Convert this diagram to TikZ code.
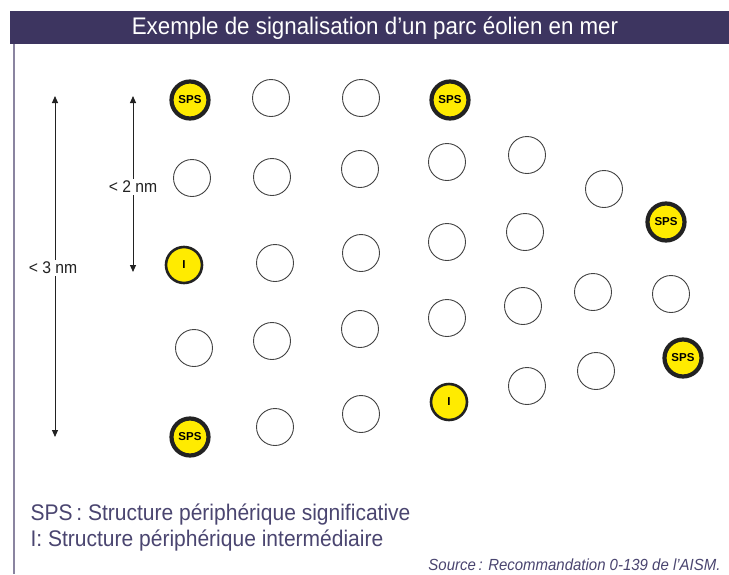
\documentclass[tikz,border=0pt]{standalone}
\usepackage{fontspec}
\usetikzlibrary{arrows.meta}
\setmainfont{Liberation Sans}
\newfontfamily\condfont[FakeStretch=0.93]{Liberation Sans}
\newfontfamily\boldfont{Liberation Sans Bold}
\definecolor{barpurple}{HTML}{3D3560}
\definecolor{framegray}{HTML}{8A84A0}
\definecolor{legendtxt}{HTML}{4A4570}
\definecolor{buoyyellow}{HTML}{FFEB00}
\definecolor{ringdark}{HTML}{222222}
\begin{document}
\begin{tikzpicture}[x=1pt,y=-1pt,
  turbine/.style={circle,draw=ringdark!85,line width=0.9pt,minimum size=37pt,inner sep=0pt},
  spsbuoy/.style={circle,draw=ringdark,fill=buoyyellow,line width=4.2pt,minimum size=37pt,inner sep=0pt,
    font=\boldfont\fontsize{11.5}{11.5}\selectfont},
  ibuoy/.style={circle,draw=ringdark,fill=buoyyellow,line width=2.6pt,minimum size=36pt,inner sep=0pt,
    font=\boldfont\fontsize{11.5}{11.5}\selectfont},
  dimarrow/.style={line width=1pt,draw=ringdark,{Triangle[length=7pt,width=6pt]}-{Triangle[length=7pt,width=6pt]}},
  dimlabel/.style={fill=white,inner sep=2pt,text=ringdark,font=\condfont\fontsize{16.9}{16.9}\selectfont}]
\useasboundingbox (0,0) rectangle (729,574);
\fill[white] (0,0) rectangle (729,574);
% title bar and frame
\fill[barpurple] (10,11) rectangle (729,44);
\node[text=white,font=\condfont\fontsize{24}{24}\selectfont] (title) at (375,28) {Exemple de signalisation d’un parc éolien en mer};
\draw[framegray,line width=1.2pt] (14,44) -- (14,574);
% column 1
\node[spsbuoy] (a1) at (190,100) {SPS};
\node[turbine] (a2) at (192,178) {};
\node[ibuoy] (a3) at (184,265) {I};
\node[turbine] (a4) at (194,348) {};
\node[spsbuoy] (a5) at (190,437) {SPS};
% column 2
\node[turbine] (b1) at (271,98) {};
\node[turbine] (b2) at (272,177) {};
\node[turbine] (b3) at (275,263) {};
\node[turbine] (b4) at (272,341) {};
\node[turbine] (b5) at (275,427) {};
% column 3
\node[turbine] (c1) at (361,98) {};
\node[turbine] (c2) at (360,169) {};
\node[turbine] (c3) at (361,253) {};
\node[turbine] (c4) at (360,329) {};
\node[turbine] (c5) at (361,414) {};
% column 4
\node[spsbuoy] (d1) at (450,100) {SPS};
\node[turbine] (d2) at (447,162) {};
\node[turbine] (d3) at (447,242) {};
\node[turbine] (d4) at (447,318) {};
\node[ibuoy] (d5) at (449,402) {I};
% column 5
\node[turbine] (e1) at (527,155) {};
\node[turbine] (e2) at (525,232) {};
\node[turbine] (e3) at (523,306) {};
\node[turbine] (e4) at (527,386) {};
% column 6
\node[turbine] (f1) at (604,189) {};
\node[turbine] (f2) at (593,292) {};
\node[turbine] (f3) at (596,371) {};
% column 7
\node[spsbuoy] (g1) at (666,222) {SPS};
\node[turbine] (g2) at (671,294) {};
\node[spsbuoy] (g3) at (683,358) {SPS};
% distance indicators
\coordinate (t3) at (55,96);
\coordinate (b3end) at (55,437);
\draw[dimarrow] (t3) -- (b3end);
\node[dimlabel] (l3) at (53,268) {< 3 nm};
\coordinate (t2) at (133,96);
\coordinate (b2end) at (133,272);
\draw[dimarrow] (t2) -- (b2end);
\node[dimlabel] (l2) at (133,187) {< 2 nm};
% legend
\node[anchor=west,text=legendtxt,font=\condfont\fontsize{22.6}{22.6}\selectfont] (leg1) at (27,515) {SPS\,: Structure périphérique significative};
\node[anchor=west,text=legendtxt,font=\condfont\fontsize{22.6}{22.6}\selectfont] (leg2) at (27,541) {I: Structure périphérique intermédiaire};
\node[anchor=east,text=legendtxt,font=\condfont\itshape\fontsize{16.1}{16.1}\selectfont] (src) at (724,565) {Source\,: Recommandation 0-139 de l’AISM.};
\end{tikzpicture}
\end{document}
